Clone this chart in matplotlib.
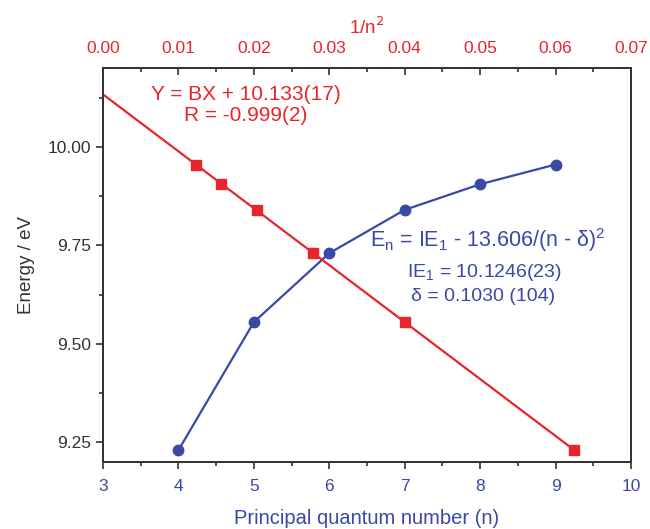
import matplotlib
matplotlib.use("Agg")
import matplotlib.pyplot as plt
from matplotlib.ticker import MultipleLocator

plt.rcParams['font.family'] = ['Liberation Sans', 'DejaVu Sans']

RED = '#e8242c'
BLUE = '#3a48a6'

# data
n_values = [4, 5, 6, 7, 8, 9]
energy = [9.23, 9.555, 9.73, 9.84, 9.905, 9.955]
inv_n2 = [1 / n ** 2 for n in n_values]
fit_x = [0.0, 1 / 16]
fit_intercept = 10.133
fit_slope = -14.45


def plot_energies():
    fig = plt.figure(figsize=(6.5, 5.29), dpi=100)
    ax = fig.add_axes([103 / 650, 1 - 462 / 529, 528 / 650, 394 / 529])

    ax.plot(n_values, energy, color=BLUE, lw=1.6, marker='o', ms=7.5, zorder=3)
    ax.set_xlim(3, 10)
    ax.set_ylim(9.2, 10.2)
    ax.xaxis.set_major_locator(MultipleLocator(1))
    ax.xaxis.set_minor_locator(MultipleLocator(0.5))
    ax.yaxis.set_major_locator(MultipleLocator(0.25))
    ax.yaxis.set_minor_locator(MultipleLocator(0.125))
    ax.yaxis.set_major_formatter(plt.FormatStrFormatter('%.2f'))
    ax.tick_params(axis='x', which='both', direction='out', colors='#333333',
                   labelcolor=BLUE, labelsize=12.5, pad=7)
    ax.tick_params(axis='y', which='both', direction='out', colors='#333333',
                   labelcolor='#333333', labelsize=12.5)
    ax.tick_params(which='major', length=5, width=1.2)
    ax.tick_params(which='minor', length=3, width=1.2)
    ax.set_xlabel('Principal quantum number (n)', color=BLUE, fontsize=14.5, labelpad=11)
    ax.set_ylabel('Energy / eV', color='#333333', fontsize=13.5, labelpad=9)
    for s in ax.spines.values():
        s.set_linewidth(1.3)
        s.set_color('#333333')

    top = ax.twiny()
    fit_y = [fit_intercept + fit_slope * x for x in fit_x]
    top.plot(fit_x, fit_y, color=RED, lw=1.6, zorder=2)
    top.plot(inv_n2, energy, color=RED, lw=0, marker='s', ms=6.5, zorder=3)
    top.set_xlim(0, 0.07)
    top.xaxis.set_major_locator(MultipleLocator(0.01))
    top.xaxis.set_minor_locator(MultipleLocator(0.005))
    top.xaxis.set_major_formatter(plt.FormatStrFormatter('%.2f'))
    top.tick_params(axis='x', which='both', direction='in', colors='#333333',
                    labelcolor=RED, labelsize=12.5, pad=8.5)
    top.tick_params(which='major', length=5, width=1.2)
    top.tick_params(which='minor', length=3, width=1.2)
    top.set_xlabel('1/n$^{2}$', color=RED, fontsize=13.5, labelpad=5)
    for s in top.spines.values():
        s.set_linewidth(1.3)
        s.set_color('#333333')

    ax.text(0.271, 0.906, 'Y = BX + 10.133(17)\nR = -0.999(2)', transform=ax.transAxes,
            color=RED, fontsize=15, ha='center', va='center', linespacing=1.15)
    ax.text(0.729, 0.563, r'E$_\mathregular{n}$ = IE$_\mathregular{1}$ - 13.606/(n - δ)$^\mathregular{2}$',
            transform=ax.transAxes, color=BLUE, fontsize=15.5, ha='center', va='center')
    ax.text(0.722, 0.482, r'IE$_\mathregular{1}$ = 10.1246(23)', transform=ax.transAxes,
            color=BLUE, fontsize=14, ha='center', va='center')
    ax.text(0.72, 0.419, 'δ = 0.1030 (104)', transform=ax.transAxes,
            color=BLUE, fontsize=14, ha='center', va='center')

    fig.savefig('out.png', dpi=100)


if __name__ == "__main__":
    plot_energies()
